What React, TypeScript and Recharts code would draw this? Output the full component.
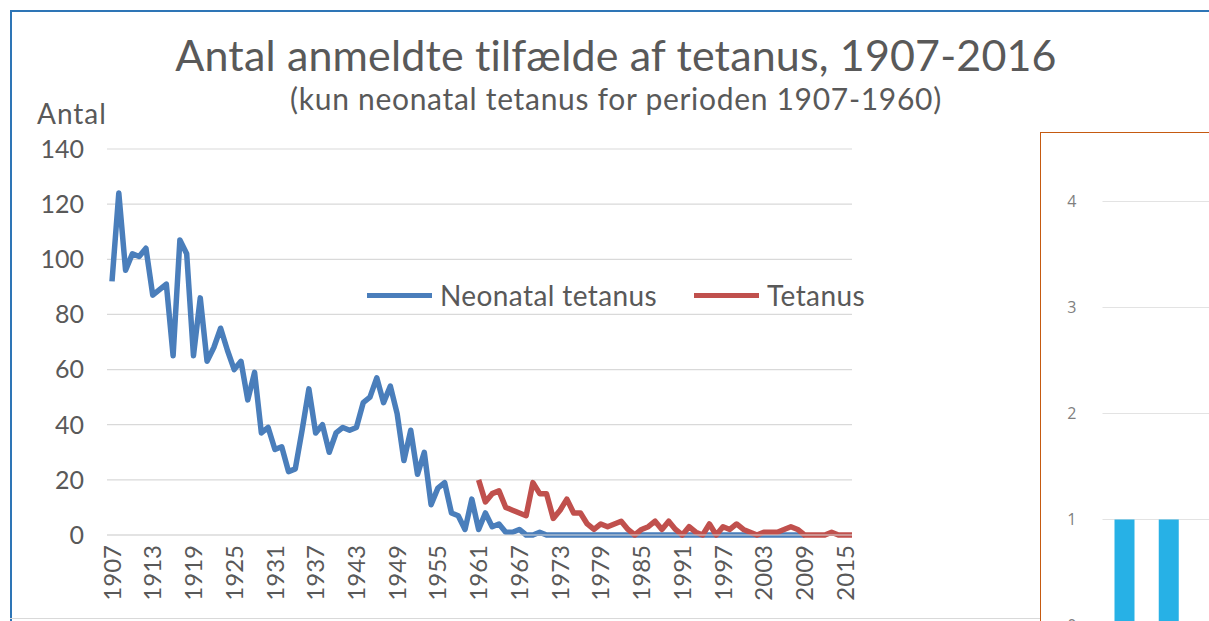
import React from 'react';
import {
  LineChart, Line, XAxis, YAxis, CartesianGrid, Legend,
  BarChart, Bar,
} from 'recharts';

const years = [
  1907, 1908, 1909, 1910, 1911, 1912, 1913, 1914, 1915, 1916,
  1917, 1918, 1919, 1920, 1921, 1922, 1923, 1924, 1925, 1926,
  1927, 1928, 1929, 1930, 1931, 1932, 1933, 1934, 1935, 1936,
  1937, 1938, 1939, 1940, 1941, 1942, 1943, 1944, 1945, 1946,
  1947, 1948, 1949, 1950, 1951, 1952, 1953, 1954, 1955, 1956,
  1957, 1958, 1959, 1960, 1961, 1962, 1963, 1964, 1965, 1966,
  1967, 1968, 1969, 1970, 1971, 1972, 1973, 1974, 1975, 1976,
  1977, 1978, 1979, 1980, 1981, 1982, 1983, 1984, 1985, 1986,
  1987, 1988, 1989, 1990, 1991, 1992, 1993, 1994, 1995, 1996,
  1997, 1998, 1999, 2000, 2001, 2002, 2003, 2004, 2005, 2006,
  2007, 2008, 2009, 2010, 2011, 2012, 2013, 2014, 2015, 2016,
];

// neonatal tetanus, 1907-2009
const neonatal = [
  92, 124, 96, 102, 101, 104, 87, 89, 91, 65,
  107, 102, 65, 86, 63, 68, 75, 67, 60, 63,
  49, 59, 37, 39, 31, 32, 23, 24, 38, 53,
  37, 40, 30, 37, 39, 38, 39, 48, 50, 57,
  48, 54, 44, 27, 38, 22, 30, 11, 17, 19,
  8, 7, 2, 13, 2, 8, 3, 4, 1, 1,
  2, 0, 0, 1, 0, 0, 0, 0, 0, 0,
  0, 0, 0, 0, 0, 0, 0, 0, 0, 0,
  0, 0, 0, 0, 0, 0, 0, 0, 0, 0,
  0, 0, 0, 0, 0, 0, 0, 0, 0, 0,
  0, 0, 0,
];

// tetanus, 1961-2016
const tetanusStart = 1961;
const tetanus = [
  20, 12, 15, 16, 10, 9, 8, 7, 19, 15,
  15, 6, 9, 13, 8, 8, 4, 2, 4, 3,
  4, 5, 2, 0, 2, 3, 5, 2, 5, 2,
  0, 3, 1, 0, 4, 0, 3, 2, 4, 2,
  1, 0, 1, 1, 1, 2, 3, 2, 0, 0,
  0, 0, 1, 0, 0, 0,
];

const yTicks = [0, 20, 40, 60, 80, 100, 120, 140];

// the cut-off chart on the right
const sideCategories = ['a', 'b'];
const sideValues = [1, 1];
const sideTicks = [0, 1, 2, 3, 4];

const FONT = 'Lato, "Open Sans", sans-serif';
const GREY = '#595959';

const chartData = years.map((year, i) => ({
  year,
  neonatal: i < neonatal.length ? neonatal[i] : null,
  tetanus: year >= tetanusStart ? tetanus[year - tetanusStart] : null,
}));

const sideData = sideCategories.map((c, i) => ({ c, v: sideValues[i] }));

const YearTick = (props: any) => {
  const { x, y, payload } = props;
  return (
    <text
      x={x}
      y={y}
      dy="0.36em"
      transform={`rotate(-90, ${x}, ${y})`}
      textAnchor="end"
      fill={GREY}
      fontSize={24}
      fontFamily={FONT}
    >
      {payload.value}
    </text>
  );
};

const LegendBox = (props: any) => {
  const { payload } = props;
  return (
    <div style={{ display: 'flex', alignItems: 'center', fontFamily: FONT, fontSize: 28, letterSpacing: 0.4, color: GREY, whiteSpace: 'nowrap' }}>
      {(payload || []).map((p: any, i: number) => (
        <div key={i} style={{ display: 'flex', alignItems: 'center', marginRight: i === 0 ? 37 : 0 }}>
          <div style={{ width: 65, height: 5, background: p.color, marginRight: 8 }} />
          <span>{p.value}</span>
        </div>
      ))}
    </div>
  );
};

export default function App() {
  return (
    <div style={{ position: 'fixed', left: 0, top: 0, width: 1209, height: 621, overflow: 'hidden', background: '#fff' }}>
      {/* frame */}
      <div style={{ position: 'absolute', left: 10, top: 10, width: 1300, height: 700, borderTop: '2px solid #2e75b6', borderLeft: '2px solid #2e75b6' }} />
      <div style={{ position: 'absolute', left: 10, top: 618, width: 1030, height: 1, background: '#d9d9d9' }} />

      <div style={{ position: 'absolute', left: 0, top: 29, width: 1232, textAlign: 'center', fontFamily: FONT, fontSize: 43, letterSpacing: 0.15, color: GREY, lineHeight: '52px', whiteSpace: 'nowrap' }}>
        Antal anmeldte tilfælde af tetanus, 1907-2016
      </div>
      <div style={{ position: 'absolute', left: 0, top: 80, width: 1232, textAlign: 'center', fontFamily: FONT, fontSize: 30, letterSpacing: 0.7, color: GREY, lineHeight: '36px', whiteSpace: 'nowrap' }}>
        (kun neonatal tetanus for perioden 1907-1960)
      </div>
      <div style={{ position: 'absolute', left: 37, top: 96, fontFamily: FONT, fontSize: 28, letterSpacing: 1, color: GREY, lineHeight: '34px' }}>
        Antal
      </div>

      <div style={{ position: 'absolute', left: 0, top: 0 }}>
        <LineChart width={880} height={621} data={chartData} margin={{ top: 149, right: 28, bottom: 16, left: 0 }}>
          <CartesianGrid vertical={false} stroke="#d9d9d9" strokeWidth={1.2} />
          <XAxis
            dataKey="year"
            interval={5}
            padding={{ left: 5, right: 0 }}
            height={70}
            tickLine={false}
            axisLine={{ stroke: '#d9d9d9', strokeWidth: 1.2 }}
            tickSize={0}
            tickMargin={10}
            tick={<YearTick />}
          />
          <YAxis
            domain={[0, 140]}
            ticks={yTicks}
            width={107}
            axisLine={false}
            tickLine={false}
            tickSize={0}
            tickMargin={23}
            tick={{ fill: GREY, fontSize: 25, fontFamily: FONT }}
          />
          <Legend
            layout="horizontal"
            align="center"
            verticalAlign="middle"
            wrapperStyle={{ left: 367, top: 278, width: 560 }}
            content={<LegendBox />}
          />
          <Line
            dataKey="neonatal"
            name="Neonatal tetanus"
            stroke="#4a7ebb"
            strokeWidth={5.5}
            dot={false}
            strokeLinejoin="round"
            isAnimationActive={false}
          />
          <Line
            dataKey="tetanus"
            name="Tetanus"
            stroke="#c0504d"
            strokeWidth={5.5}
            dot={false}
            strokeLinejoin="round"
            isAnimationActive={false}
          />
        </LineChart>
      </div>

      <div style={{ position: 'absolute', left: 1040, top: 132, width: 240, height: 560, border: '1.5px solid #c55a11', background: '#fff' }}>
        <BarChart width={220} height={540} data={sideData} margin={{ top: 68.5, right: 0, bottom: 47.5, left: 0 }} barSize={20}>
          <CartesianGrid vertical={false} stroke="#e3e3e3" />
          <XAxis dataKey="c" hide padding={{ left: 0, right: 70 }} />
          <YAxis
            domain={[0, 4]}
            ticks={sideTicks}
            width={61.5}
            axisLine={false}
            tickLine={false}
            tickSize={0}
            tickMargin={26}
            tick={{ fill: '#7f7f7f', fontSize: 16, fontFamily: '"Open Sans", sans-serif' }}
          />
          <Bar dataKey="v" fill="#27b1e6" isAnimationActive={false} />
        </BarChart>
      </div>
    </div>
  );
}
